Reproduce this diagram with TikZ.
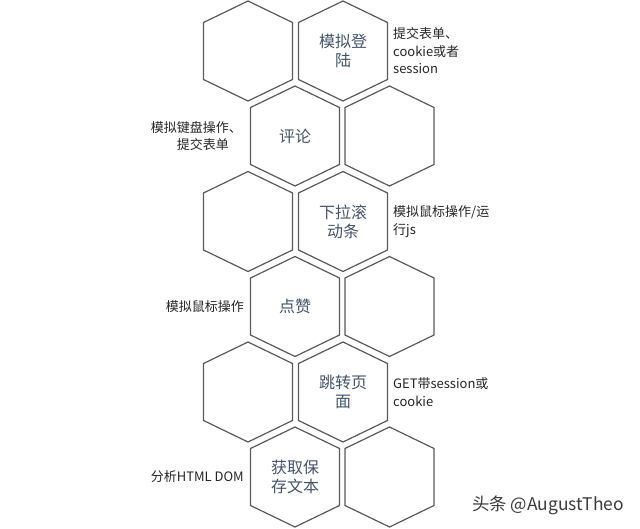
\documentclass[tikz,border=0pt]{standalone}
\usepackage{fontspec}
\setmainfont{Noto Sans CJK SC}
\usetikzlibrary{calc}
\definecolor{hexline}{RGB}{90,90,90}
\definecolor{hextext}{RGB}{68,84,106}
\definecolor{sidetext}{RGB}{38,38,38}
\definecolor{marktext}{RGB}{60,60,60}
\tikzset{
  hexshape/.style={draw=hexline, line width=1.2pt, line join=miter},
  hexlabel/.style={text=hextext, font=\fontsize{16}{19}\selectfont, align=center, inner sep=0pt},
  rightnote/.style={text=sidetext, font=\fontsize{13}{17.5}\selectfont, align=left, anchor=west, inner sep=0pt},
  leftnote/.style={text=sidetext, font=\fontsize{13}{17.5}\selectfont, align=right, anchor=east, inner sep=0pt},
  watermark/.style={text=marktext, font=\fontsize{17.4}{20}\selectfont, anchor=west, inner sep=0pt},
}
\newcommand\hexcell[4]{%
  \coordinate (#1c) at (#2,#3);
  \node[hexlabel] (#1) at (#1c) {#4};
  \draw[hexshape] ($(#1c)+(0,50)$) -- ++(44.5,-21.5) -- ++(0,-57) -- ++(-44.5,-21.5) -- ++(-44.5,21.5) -- ++(0,57) -- cycle;
}
\begin{document}
\begin{tikzpicture}[x=1pt,y=-1pt]
\useasboundingbox[fill=white] (0,0) rectangle (640,529);
% row 1
\hexcell{h1a}{248}{51}{}
\hexcell{h1b}{343}{51}{模拟登\\陆}
\node[rightnote] (n1) at (393,51) {提交表单、\\cookie或者\\session};
% row 2
\hexcell{h2a}{295}{136}{评论}
\hexcell{h2b}{389.5}{136}{}
\node[leftnote] (n2) at (242,136) {模拟键盘操作、\\提交表单\phantom{、}};
% row 3
\hexcell{h3a}{248}{221.5}{}
\hexcell{h3b}{343}{221.5}{下拉滚\\动条}
\node[rightnote] (n3) at (393,221.5) {模拟鼠标操作/运\\行js};
% row 4
\hexcell{h4a}{295}{306.5}{点赞}
\hexcell{h4b}{389.5}{306.5}{}
\node[leftnote] (n4) at (244,306.5) {模拟鼠标操作};
% row 5
\hexcell{h5a}{248}{392}{}
\hexcell{h5b}{343}{392}{跳转页\\面}
\node[rightnote] (n5) at (393,392) {GET带session或\\cookie};
% row 6
\hexcell{h6a}{295}{477}{获取保\\存文本}
\hexcell{h6b}{389.5}{477}{}
\node[leftnote] (n6) at (244,477) {分析HTML DOM};
% watermark
\node[watermark] (wm) at (472,505) {头条 @AugustTheo};
\end{tikzpicture}
\end{document}
